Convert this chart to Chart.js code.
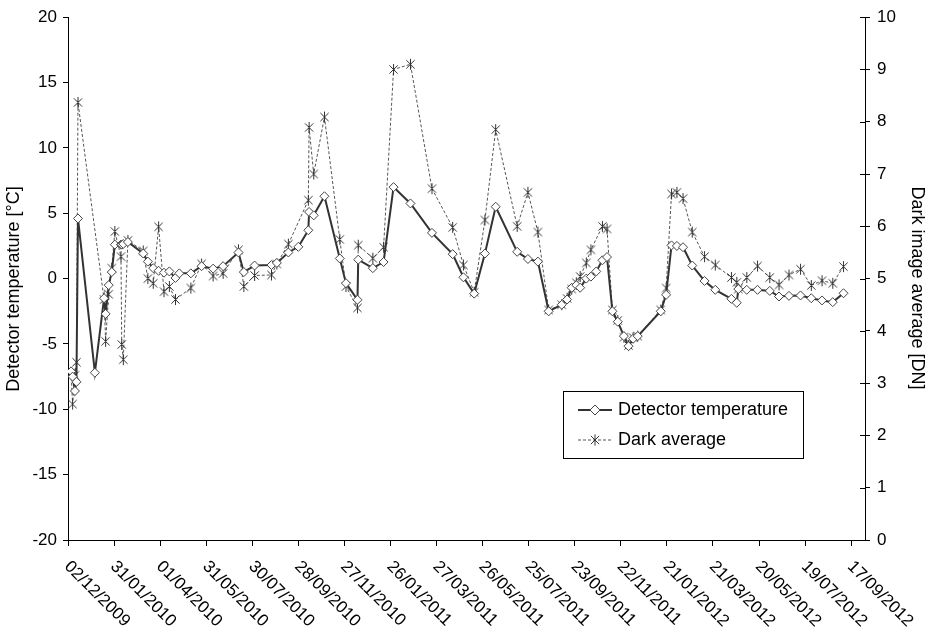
<!DOCTYPE html>
<html lang="en">
<head>
  <meta charset="UTF-8">
  <title>Detector temperature and dark average</title>
  <script src="https://cdn.jsdelivr.net/npm/chart.js"></script>
  <style>
    body {
      margin: 0;
      padding: 0;
      background: #fff;
    }
    #chart {
      display: block;
    }
  </style>
</head>
<body>
  <canvas id="chart" width="932" height="634"></canvas>

  <script>
    // days since 02/12/2009 for each measurement
    const dayOffsets = [
      4, 6, 9, 11, 13, 35, 47, 49, 53, 57, 61, 69, 70, 72, 78, 98, 104, 111, 118, 125,
      132, 140, 145, 160, 174, 189, 202, 222, 229, 243, 265, 272, 287, 300, 313, 314, 320, 334, 354, 362,
      377, 378, 397, 411, 424, 446, 474, 501, 515, 529, 543, 557, 585, 599, 612, 626, 643, 650, 656, 662,
      667, 675, 681, 688, 696, 702, 709, 716, 724, 730, 736, 742, 772, 779, 786, 793, 801, 813, 829, 843,
      864, 871, 873, 884, 898, 914, 926, 939, 954, 968, 982, 996, 1010
    ];

    // detector temperature [°C]
    const detectorTemp = [
      -7.1, -7.5, -8.6, -7.9, 4.6, -7.2, -1.5, -2.7, -0.5, 0.5, 2.6, 2.6, 2.6, 2.65, 2.8, 1.92, 1.3, 0.8, 0.6, 0.45,
      0.55, 0.05, 0.4, 0.4, 0.95, 0.76, 0.95, 2.0, 0.5, 1.0, 1.04, 1.2, 2.0, 2.43, 3.7, 5.1, 4.84, 6.3, 1.54, -0.35,
      -1.62, 1.45, 0.8, 1.27, 7.0, 5.75, 3.5, 1.87, 0.1, -1.15, 1.92, 5.5, 2.05, 1.5, 1.3, -2.5, -2.0, -1.6, -0.7, -0.5,
      -0.7, 0.0, 0.15, 0.55, 1.4, 1.65, -2.5, -3.3, -4.4, -5.17, -4.6, -4.4, -2.5, -1.24, 2.54, 2.5, 2.4, 1.0, -0.18, -0.86,
      -1.55, -1.85, -0.8, -0.86, -0.86, -0.94, -1.37, -1.32, -1.29, -1.5, -1.67, -1.8, -1.12
    ];

    // dark image average [DN] (null = no star plotted for that date)
    const darkAverage = [
      3.2, 2.6, 3.15, 3.4, 8.37, null, 4.6, 3.8, 4.7, 5.2, 5.9, 5.42, 3.74, 3.45, 5.73, 5.53, 5.0, 4.91, 5.99, 4.75,
      4.85, 4.6, null, 4.82, 5.28, 5.05, 5.1, 5.55, 4.85, 5.06, 5.07, 5.28, 5.66, null, 6.5, 7.89, 7.0, 8.09, 5.75, 4.85,
      4.44, 5.64, 5.39, 5.6, 9.0, 9.1, 6.72, 5.98, 5.26, 4.74, 6.12, 7.85, 6.0, 6.65, 5.89, 4.4, 4.5, 4.62, 4.8, 4.92,
      5.04, 5.3, 5.55, null, 6.0, 5.95, 4.4, 4.2, 3.88, 3.72, 3.87, 3.9, 4.4, 4.82, 6.62, 6.65, 6.53, 5.89, 5.42, 5.26,
      5.02, 4.93, 4.8, 5.02, 5.24, 5.02, 4.88, 5.07, 5.18, 4.87, 4.96, 4.91, 5.23
    ];

    const seriesNames = ['Detector temperature', 'Dark average'];
    const leftTitle = 'Detector temperature [°C]';
    const rightTitle = 'Dark image average [DN]';

    const START = Date.UTC(2009, 11, 2);
    const FONT = '"Liberation Sans", Arial, sans-serif';

    function dateLabel(days) {
      const d = new Date(START + days * 86400000);
      const dd = String(d.getUTCDate()).padStart(2, '0');
      const mm = String(d.getUTCMonth() + 1).padStart(2, '0');
      return dd + '/' + mm + '/' + d.getUTCFullYear();
    }

    const tempPoints = dayOffsets.map((d, i) => ({ x: d, y: detectorTemp[i] }));
    const darkPoints = dayOffsets.map((d, i) => ({ x: d, y: darkAverage[i] }));

    // Excel-like star marker: an X with a vertical stroke
    function drawStar(c, x, y, r) {
      c.beginPath();
      c.moveTo(x - r * 0.75, y - r * 0.75);
      c.lineTo(x + r * 0.75, y + r * 0.75);
      c.moveTo(x + r * 0.75, y - r * 0.75);
      c.lineTo(x - r * 0.75, y + r * 0.75);
      c.moveTo(x, y - r);
      c.lineTo(x, y + r);
      c.strokeStyle = '#333';
      c.lineWidth = 1;
      c.stroke();
    }

    const starMarker = document.createElement('canvas');
    starMarker.width = 13;
    starMarker.height = 13;
    drawStar(starMarker.getContext('2d'), 6.5, 6.5, 5.5);

    function drawDiamond(c, x, y, r) {
      c.beginPath();
      c.moveTo(x, y - r);
      c.lineTo(x + r, y);
      c.lineTo(x, y + r);
      c.lineTo(x - r, y);
      c.closePath();
      c.fillStyle = '#fff';
      c.fill();
      c.strokeStyle = '#444';
      c.lineWidth = 1;
      c.stroke();
    }

    // rotated date labels, axis titles, crossing ticks on the right axis and the boxed legend
    const extras = {
      id: 'extras',
      afterDraw(chart) {
        const ctx = chart.ctx;
        const xs = chart.scales.x;
        const y2 = chart.scales.y2;

        ctx.save();
        ctx.font = '17px ' + FONT;
        ctx.fillStyle = '#000';
        ctx.textAlign = 'left';
        ctx.textBaseline = 'middle';
        xs.ticks.forEach(t => {
          const px = xs.getPixelForValue(t.value);
          ctx.save();
          ctx.translate(px - 1, xs.top + 24);
          ctx.rotate(Math.PI / 4);
          ctx.fillText(dateLabel(t.value), 0, 0);
          ctx.restore();
        });

        // axis titles
        ctx.font = '18px ' + FONT;
        ctx.textAlign = 'center';
        ctx.save();
        ctx.translate(14, 289);
        ctx.rotate(-Math.PI / 2);
        ctx.fillText(leftTitle, 0, 0);
        ctx.restore();
        ctx.save();
        ctx.translate(917, 288);
        ctx.rotate(Math.PI / 2);
        ctx.fillText(rightTitle, 0, 0);
        ctx.restore();

        ctx.strokeStyle = '#000';
        ctx.lineWidth = 1;
        y2.ticks.forEach(t => {
          const py = Math.round(y2.getPixelForValue(t.value)) + 0.5;
          ctx.beginPath();
          ctx.moveTo(y2.left - 5, py);
          ctx.lineTo(y2.left, py);
          ctx.stroke();
        });

        // legend
        const lx = 563.5, ly = 391.5, lw = 240, lh = 67;
        ctx.fillStyle = '#fff';
        ctx.fillRect(lx, ly, lw, lh);
        ctx.strokeStyle = '#000';
        ctx.strokeRect(lx, ly, lw, lh);

        ctx.beginPath();
        ctx.moveTo(578, 410);
        ctx.lineTo(612, 410);
        ctx.strokeStyle = '#333';
        ctx.lineWidth = 2;
        ctx.stroke();
        drawDiamond(ctx, 595, 410, 5);

        ctx.beginPath();
        ctx.setLineDash([3, 2]);
        ctx.moveTo(578, 440);
        ctx.lineTo(612, 440);
        ctx.strokeStyle = '#555';
        ctx.lineWidth = 1;
        ctx.stroke();
        ctx.setLineDash([]);
        drawStar(ctx, 595, 440, 5.5);

        ctx.font = '18px ' + FONT;
        ctx.fillStyle = '#000';
        ctx.textAlign = 'left';
        ctx.textBaseline = 'middle';
        ctx.fillText(seriesNames[0], 618, 410);
        ctx.fillText(seriesNames[1], 618, 440);
        ctx.restore();
      }
    };

    const ctx = document.getElementById('chart').getContext('2d');
    new Chart(ctx, {
      type: 'line',
      data: {
        datasets: [
          {
            label: seriesNames[0],
            data: tempPoints,
            yAxisID: 'y',
            borderColor: '#333',
            borderWidth: 2,
            pointStyle: 'rectRot',
            pointRadius: 4.5,
            pointBackgroundColor: '#fff',
            pointBorderColor: '#444',
            pointBorderWidth: 1,
            tension: 0,
            fill: false
          },
          {
            label: seriesNames[1],
            data: darkPoints,
            yAxisID: 'y2',
            borderColor: '#555',
            borderWidth: 1,
            borderDash: [3, 2],
            pointStyle: starMarker,
            spanGaps: true,
            tension: 0,
            fill: false
          }
        ]
      },
      options: {
        responsive: false,
        animation: false,
        layout: { padding: { top: 14, left: 0, right: 0, bottom: 0 } },
        plugins: {
          legend: { display: false },
          tooltip: { enabled: false }
        },
        scales: {
          x: {
            type: 'linear',
            min: 0,
            max: 1038,
            afterFit(scale) { scale.height = 94; },
            ticks: { stepSize: 60, includeBounds: false, display: false },
            grid: { drawOnChartArea: false, drawTicks: true, tickLength: 6, color: '#000' },
            border: { display: true, color: '#000', width: 1 }
          },
          y: {
            position: 'left',
            min: -20,
            max: 20,
            afterFit(scale) { scale.width = 68; },
            ticks: { stepSize: 5, color: '#000', padding: 6, font: { size: 17, family: FONT } },
            grid: { drawOnChartArea: false, drawTicks: true, tickLength: 5, color: '#000' },
            border: { display: true, color: '#000', width: 1 }
          },
          y2: {
            position: 'right',
            min: 0,
            max: 10,
            afterFit(scale) { scale.width = 67; },
            ticks: { stepSize: 1, color: '#000', padding: 7, font: { size: 17, family: FONT } },
            grid: { drawOnChartArea: false, drawTicks: true, tickLength: 5, color: '#000' },
            border: { display: true, color: '#000', width: 1 }
          }
        }
      },
      plugins: [extras]
    });
  </script>
</body>
</html>
